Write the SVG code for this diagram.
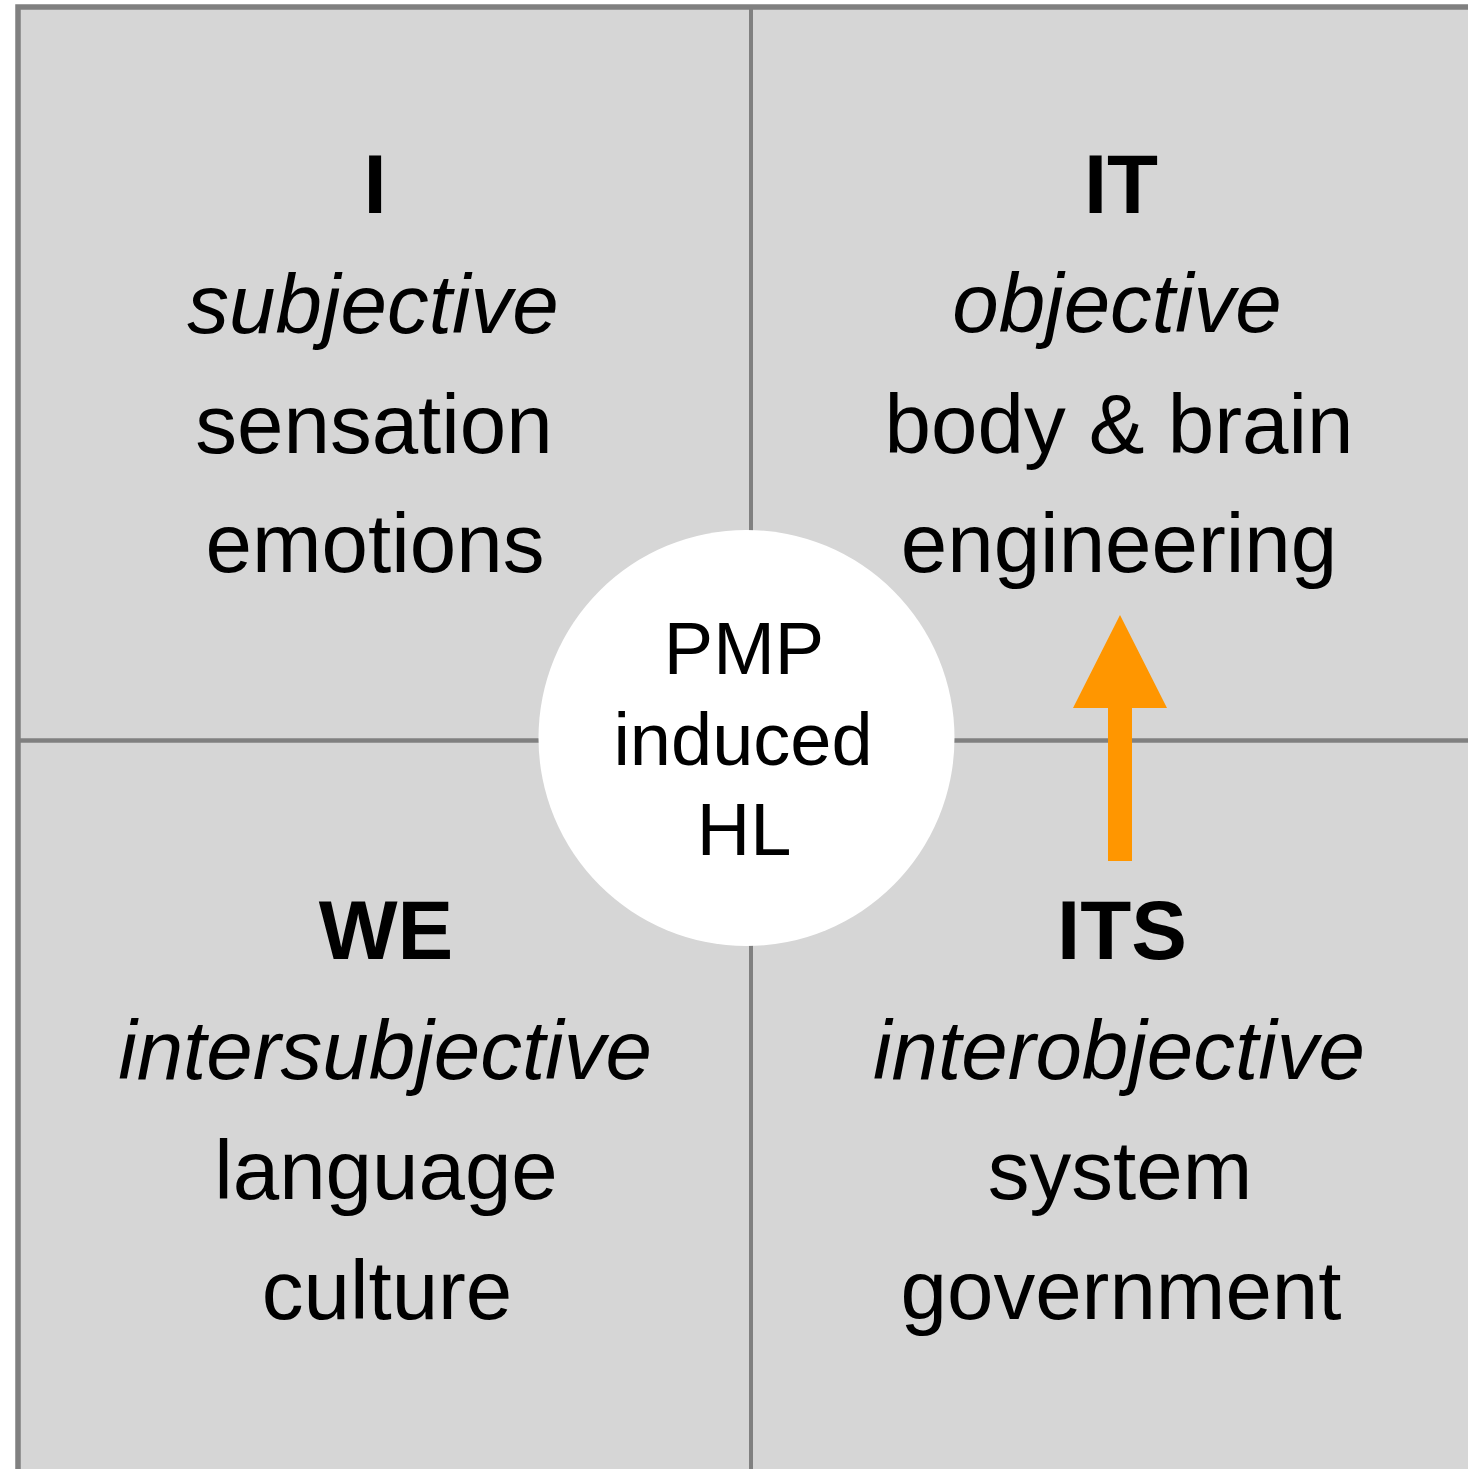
<svg xmlns="http://www.w3.org/2000/svg" width="1468" height="1469" viewBox="0 0 1468 1469">
  <style>
    .t { font-family: "Liberation Sans", Arial, sans-serif; font-size: 83.5px; fill: #000; text-anchor: middle; }
    .b { font-weight: bold; }
    .i { font-style: italic; }
    .c { font-family: "Liberation Sans", Arial, sans-serif; font-size: 74px; fill: #000; text-anchor: middle; }
    .grid { stroke: #808080; }
    .panel { fill: #d6d6d6; stroke: #808080; }
  </style>
  <rect x="0" y="0" width="1468" height="1469" fill="#ffffff"/>
  <g id="background">
    <rect x="18" y="7" width="1470" height="1480" class="panel" stroke-width="5.5"/>
    <line x1="751" y1="7" x2="751" y2="1469" class="grid" stroke-width="4"/>
    <line x1="18" y1="740.5" x2="1468" y2="740.5" class="grid" stroke-width="4.5"/>
  </g>
  <g id="node-I">
    <text class="t b" x="375" y="213">I</text>
    <text class="t i" x="373" y="333">subjective</text>
    <text class="t" x="374" y="453">sensation</text>
    <text class="t" x="375" y="572">emotions</text>
  </g>
  <g id="node-IT">
    <text class="t b" x="1121" y="213">IT</text>
    <text class="t i" x="1117" y="332">objective</text>
    <text class="t" x="1119" y="453">body &amp; brain</text>
    <text class="t" x="1119" y="572">engineering</text>
  </g>
  <g id="node-WE">
    <text class="t b" x="386" y="959">WE</text>
    <text class="t i" x="385" y="1079">intersubjective</text>
    <text class="t" x="386" y="1199">language</text>
    <text class="t" x="387" y="1319">culture</text>
  </g>
  <g id="node-ITS">
    <text class="t b" x="1122" y="959">ITS</text>
    <text class="t i" x="1119" y="1079">interobjective</text>
    <text class="t" x="1120" y="1199">system</text>
    <text class="t" x="1121" y="1319">government</text>
  </g>
  <g id="node-center">
    <circle cx="746.5" cy="738" r="208" fill="#ffffff"/>
    <text class="c" x="744" y="674">PMP</text>
    <text class="c" x="743" y="765">induced</text>
    <text class="c" x="744" y="855">HL</text>
  </g>
  <g id="connectors">
    <polygon points="1108,861 1132,861 1132,708 1167,708 1120,615 1073,708 1108,708" fill="#ff9600"/>
  </g>
</svg>
